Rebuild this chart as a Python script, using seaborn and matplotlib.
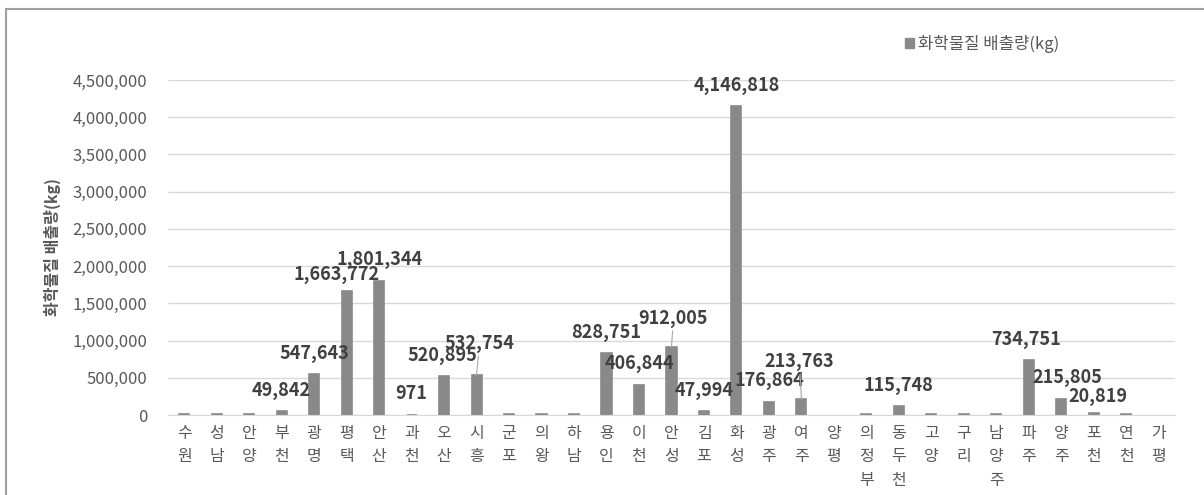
import matplotlib
matplotlib.use("Agg")
import matplotlib.pyplot as plt
from matplotlib.patches import Patch
from matplotlib.lines import Line2D
import seaborn as sns

# 시군별 화학물질 배출량(kg)
cities = ['수원', '성남', '안양', '부천', '광명', '평택', '안산', '과천', '오산', '시흥',
          '군포', '의왕', '하남', '용인', '이천', '안성', '김포', '화성', '광주', '여주',
          '양평', '의정부', '동두천', '고양', '구리', '남양주', '파주', '양주', '포천', '연천', '가평']
emissions = [8000, 8000, 8000, 49842, 547643, 1663772, 1801344, 971, 520895, 532754,
             8000, 8000, 8000, 828751, 406844, 912005, 47994, 4146818, 176864, 213763,
             0, 8000, 115748, 8000, 8000, 8000, 734751, 215805, 20819, 8000, 0]
# 값 라벨이 붙은 시군
labeled = ['부천', '광명', '평택', '안산', '과천', '오산', '시흥', '용인', '이천', '안성',
           '김포', '화성', '광주', '여주', '동두천', '파주', '양주', '포천']

# 라벨 위치 보정 (픽셀), 지시선 여부
label_shift = {'평택': (-10, 17), '시흥': (3, 32), '안성': (2, 29), '여주': (-2, 38),
               '양주': (6, 21), '파주': (-3, 21), '오산': (-2, 21), '포천': (4, 17)}
leader = ['시흥', '안성', '여주']

sns.set_style('white')
plt.rcParams['font.family'] = ['Noto Sans CJK KR', 'DejaVu Sans']

fig = plt.figure(figsize=(12.04, 4.95), dpi=100)
ax = fig.add_axes([0.1395, 0.1616, 0.9759 - 0.1395, 0.8384 - 0.1616])

bar_color = '#898989'
sns.barplot(x=cities, y=emissions, color=bar_color, width=0.31,
            edgecolor=bar_color, linewidth=1.2, ax=ax)
# 값이 0인 막대는 테두리도 그리지 않음
for bar in ax.patches:
    if bar.get_height() == 0:
        bar.set_linewidth(0)

ax.set_ylim(0, 4500000)
ax.set_yticks(range(0, 4500001, 500000))
ax.yaxis.set_major_formatter(matplotlib.ticker.FuncFormatter(lambda v, p: f'{int(v):,}'))
ax.yaxis.grid(True, color='#d9d9d9', lw=1)
ax.set_axisbelow(True)
for s in ['top', 'right', 'left']:
    ax.spines[s].set_visible(False)
ax.spines['bottom'].set_color('#d9d9d9')
ax.tick_params(axis='y', length=0, pad=15, labelsize=12, labelcolor='#595959')
ax.tick_params(axis='x', length=0, pad=7)
ax.set_xticks(range(len(cities)))
ax.set_xticklabels(['\n'.join(c) for c in cities], fontsize=11.5, color='#595959',
                   linespacing=1.5, va='top')
ax.set_xlabel('')
ax.set_ylabel('화학물질 배출량(kg)', fontsize=11.5, fontweight='bold', color='#595959',
              labelpad=8)

for i, (c, v) in enumerate(zip(cities, emissions)):
    if c not in labeled:
        continue
    dx, dy = label_shift.get(c, (0, 21))
    arrow = dict(arrowstyle='-', color='#a6a6a6', lw=0.8, shrinkA=0, shrinkB=0) if c in leader else None
    ax.annotate(f'{v:,}', xy=(i, v), xytext=(dx, dy), textcoords='offset pixels',
                ha='center', va='center', fontsize=13, fontweight='bold', color='#404040',
                arrowprops=arrow)

ax.legend(handles=[Patch(facecolor=bar_color, edgecolor=bar_color)],
          labels=['화학물질 배출량(kg)'], loc='center left',
          bbox_to_anchor=(905 / 1204, 1 - 44 / 495), bbox_transform=fig.transFigure,
          frameon=False, handlelength=0.55, handleheight=0.55, handletextpad=0.2,
          prop={'size': 12}, labelcolor='#595959', borderaxespad=0, borderpad=0)

# 차트 테두리
fig.add_artist(Line2D([6 / 1204, 6 / 1204], [0, 1 - 9 / 495], color='#a0a0a0', lw=1.5,
                      transform=fig.transFigure))
fig.add_artist(Line2D([6 / 1204, 1], [1 - 9 / 495, 1 - 9 / 495], color='#a0a0a0', lw=1.5,
                      transform=fig.transFigure))

fig.savefig('out.png', dpi=100)
